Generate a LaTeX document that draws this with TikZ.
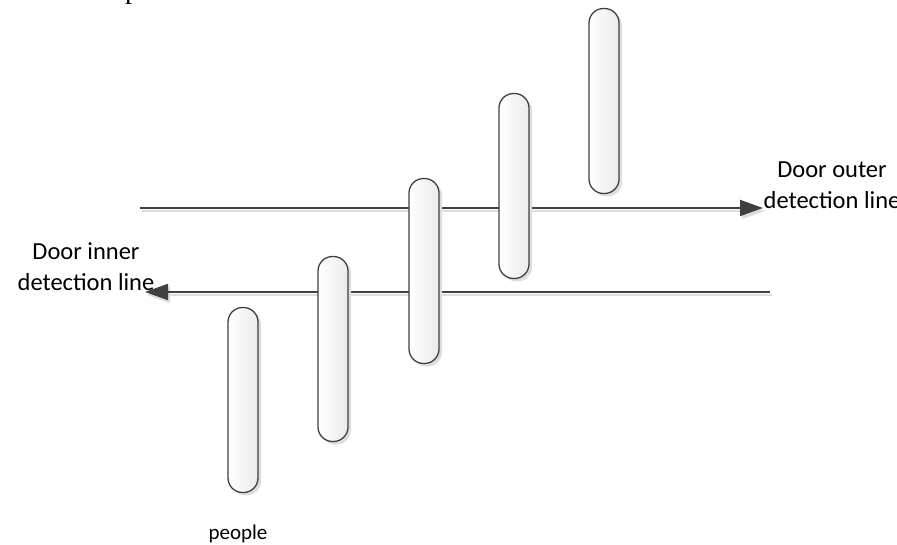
\documentclass[tikz,border=0pt]{standalone}
\usepackage{fontspec}
\setmainfont{Carlito}
\newfontfamily\serifpart{Liberation Serif}
\usetikzlibrary{arrows.meta,shadows}
\definecolor{linegray}{HTML}{404040}
\definecolor{shadowgray}{HTML}{DDDDDD}
\tikzset{
  pill/.style={draw=linegray, line width=1.3pt, rounded corners=14.5pt,
    minimum width=30pt, minimum height=185pt, inner sep=0pt,
    left color=white, right color=black!8, shading angle=90,
    drop shadow={shadow xshift=3pt, shadow yshift=-3pt, fill=shadowgray, opacity=1}},
  conn/.style={draw=linegray, line width=2pt,
    -{Triangle[length=23pt,width=16pt]}},
  connshadow/.style={draw=shadowgray, line width=2pt,
    -{Triangle[length=23pt,width=16pt]}},
  lbl/.style={font=\fontsize{24.5}{31}\selectfont, align=center, inner sep=0pt, text=black},
}
\begin{document}
\begin{tikzpicture}[x=1pt,y=-1pt]
\useasboundingbox (0,0) rectangle (897,545);
% line end points
\coordinate (o1) at (140,208);
\coordinate (o2) at (763,208);
\coordinate (i1) at (770,292);
\coordinate (i2) at (145,292);
\coordinate (o1s) at (142,211);
\coordinate (o2s) at (765,211);
\coordinate (i1s) at (772,295);
\coordinate (i2s) at (147,295);
% shadows of lines
\draw[connshadow] (o1s) -- (o2s);
\draw[connshadow] (i1s) -- (i2s);
% lines
\draw[conn] (o1) -- (o2);
\draw[conn] (i1) -- (i2);
% people
\node[pill] (p1) at (243,400) {};
\node[pill] (p2) at (333,349) {};
\node[pill] (p3) at (424,271) {};
\node[pill] (p4) at (514,186) {};
\node[pill] (p5) at (604,101) {};
% labels
\node[lbl] (outer) at (832,185) {Door outer\\detection line};
\node[lbl] (inner) at (86,267) {Door inner\\detection line};
\node[lbl, font=\fontsize{21}{25}\selectfont] (people) at (238,534) {people};
\node[anchor=base, inner sep=0pt, font=\serifpart\fontsize{28}{32}\selectfont] (frag) at (132,-1.6) {p};
\end{tikzpicture}
\end{document}
